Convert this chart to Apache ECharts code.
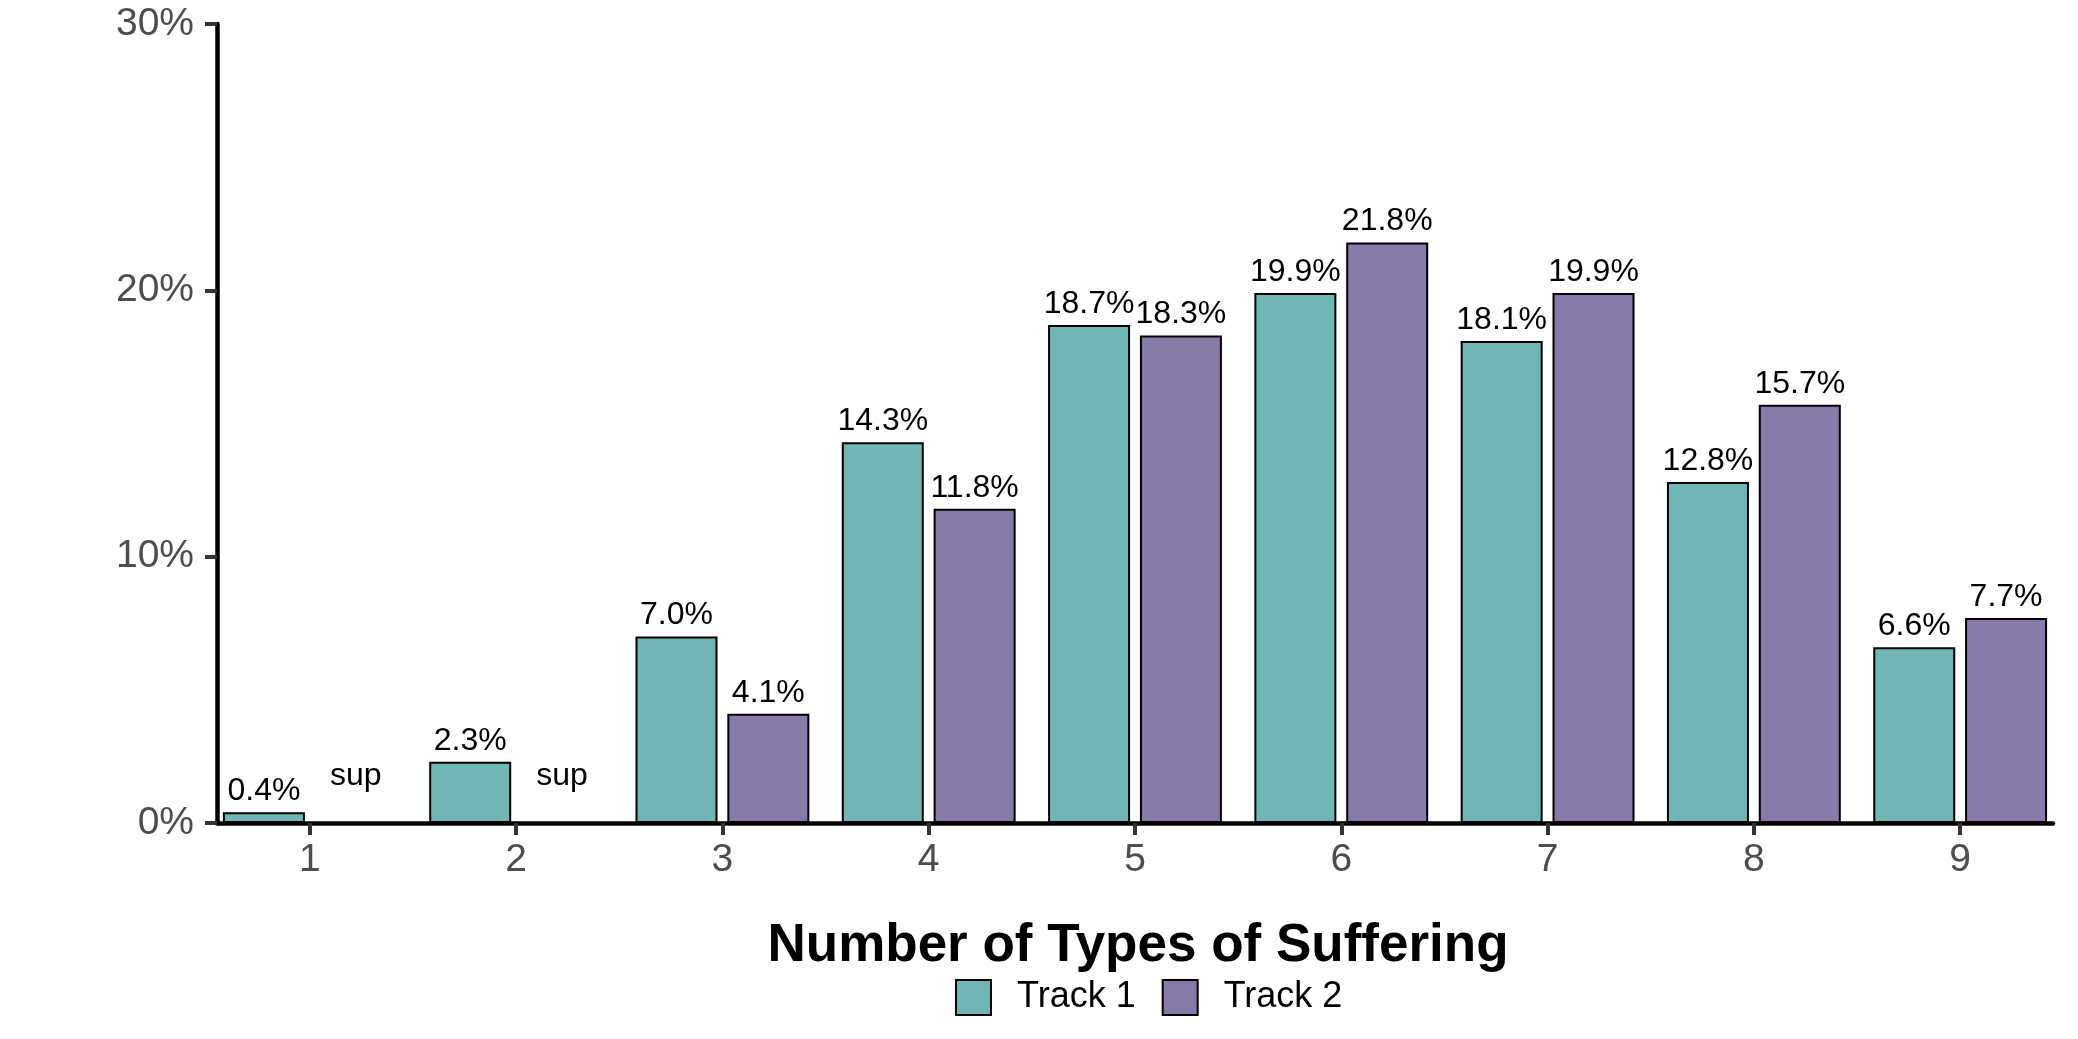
<!DOCTYPE html>
<html>
<head>
<meta charset="utf-8">
<script src="https://cdn.jsdelivr.net/npm/echarts@6/dist/echarts.min.js"></script>
<style>
    html, body { margin: 0; padding: 0; background: #fff; }
    #chart { width: 2078px; height: 1039px; }
</style>
</head>
<body>
<div id="chart"></div>
<script>
// categories (number of types of suffering)
var categories = [1, 2, 3, 4, 5, 6, 7, 8, 9];
// percent of respondents, null = suppressed ("sup")
var track1 = [0.4, 2.3, 7.0, 14.3, 18.7, 19.9, 18.1, 12.8, 6.6];
var track2 = [null, null, 4.1, 11.8, 18.3, 21.8, 19.9, 15.7, 7.7];
var yTicks = [0, 10, 20, 30];

var FONT = 'Liberation Sans';
var TEAL = '#70B7B3';
var PURPLE = '#8779AA';

function buildData(values) {
    return values.map(function (v, i) {
        if (v === null) {
            // suppressed value: empty bar with a "sup" note above the baseline
            return {
                value: [categories[i], 0],
                itemStyle: { borderWidth: 0 },
                label: { formatter: 'sup', offset: [0, -26] }
            };
        }
        return { value: [categories[i], v] };
    });
}

function barSeries(name, values, color) {
    return {
        name: name,
        type: 'bar',
        data: buildData(values),
        barWidth: 82,
        barGap: '12%',
        itemStyle: { color: color, borderColor: '#000', borderWidth: 2 },
        label: {
            show: true,
            position: 'top',
            distance: 5,
            fontFamily: FONT,
            fontSize: 32,
            color: '#000',
            formatter: function (p) { return p.value[1].toFixed(1) + '%'; }
        }
    };
}

var chart = echarts.init(document.getElementById('chart'));

var options = {
    backgroundColor: '#fff',
    animation: false,
    grid: { left: 217, right: 25, top: 24, bottom: 216 },
    xAxis: {
        type: 'value',
        min: 0.55,
        max: 9.45,
        splitLine: { show: false },
        axisLine: { show: true, onZero: false, lineStyle: { color: '#000', width: 4.5 } },
        axisTick: { show: true, customValues: categories, length: 12, lineStyle: { color: '#333', width: 4 } },
        axisLabel: {
            customValues: categories,
            margin: 18,
            fontFamily: FONT,
            fontSize: 39,
            color: '#4D4D4D'
        }
    },
    yAxis: {
        type: 'value',
        min: 0,
        max: 30,
        interval: 10,
        splitLine: { show: false },
        axisLine: { show: true, lineStyle: { color: '#000', width: 4.5 } },
        axisTick: { show: true, length: 12, lineStyle: { color: '#333', width: 4 } },
        axisLabel: {
            margin: 23,
            fontFamily: FONT,
            fontSize: 39,
            color: '#4D4D4D',
            formatter: function (v) { return yTicks.indexOf(v) >= 0 ? v + '%' : ''; }
        }
    },
    legend: {
        left: 950,
        top: 974,
        itemWidth: 35,
        itemHeight: 35,
        itemGap: 26,
        icon: 'rect',
        itemStyle: { borderColor: '#000', borderWidth: 2 },
        textStyle: { fontFamily: FONT, fontSize: 36, color: '#000', padding: [0, 0, 0, 21] },
        data: ['Track 1', 'Track 2']
    },
    graphic: [{
        type: 'text',
        x: 1138,
        y: 946,
        style: {
            text: 'Number of Types of Suffering',
            fontFamily: FONT,
            fontWeight: 'bold',
            fontSize: 53,
            fill: '#000',
            align: 'center',
            verticalAlign: 'middle'
        }
    }],
    series: [
        barSeries('Track 1', track1, TEAL),
        barSeries('Track 2', track2, PURPLE)
    ]
};

chart.setOption(options, true);
</script>
</body>
</html>
